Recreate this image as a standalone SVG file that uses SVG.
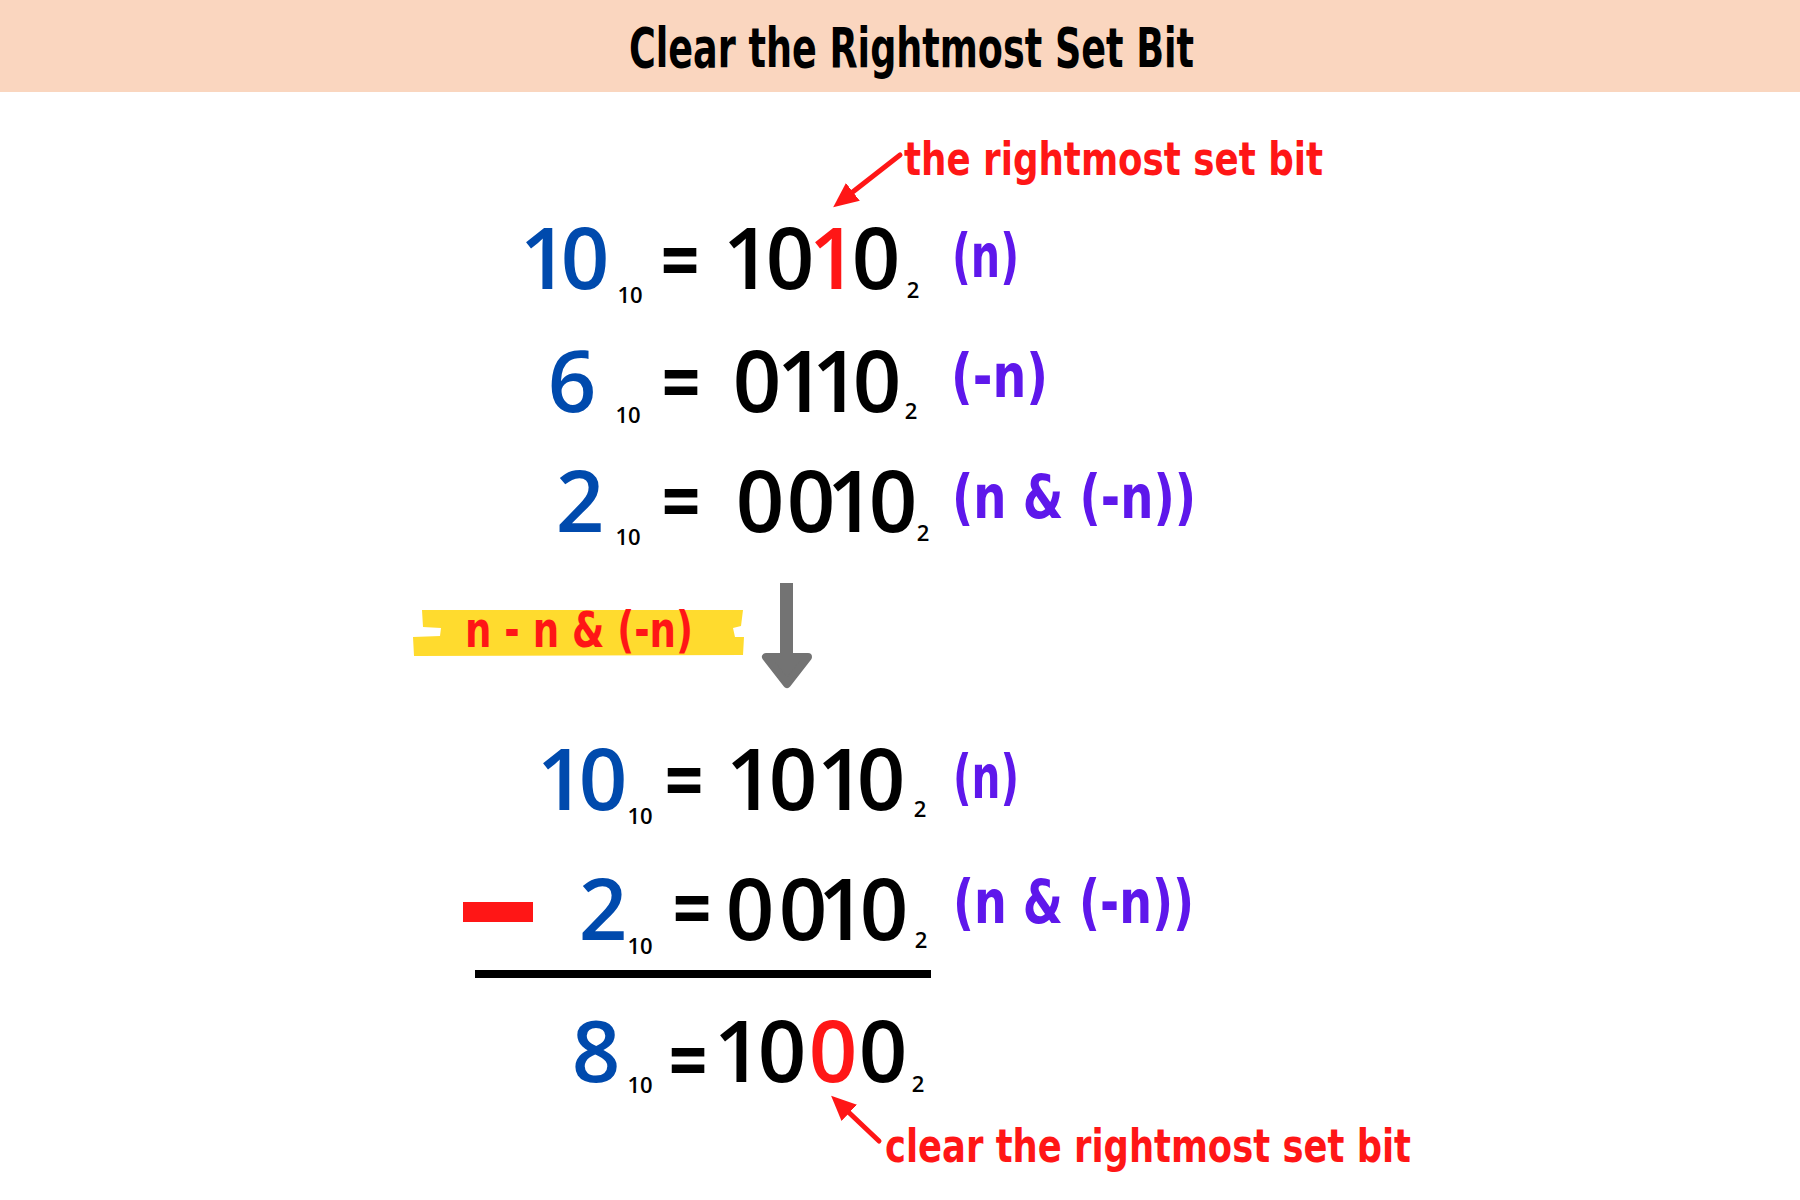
<svg xmlns="http://www.w3.org/2000/svg" width="1800" height="1200" viewBox="0 0 1800 1200">
<defs>
<style>
.dig{font-family:'Open Sans','Noto Sans',sans-serif;font-weight:600;font-size:85px;text-anchor:middle;letter-spacing:-6px}
.blue{fill:#004AAD}
.blk{fill:#000}
.red{fill:#FF1616}
.sub{font-family:'Open Sans','Noto Sans',sans-serif;font-weight:600;font-size:22px;fill:#000;text-anchor:middle}
.eq{font-family:'DejaVu Sans',sans-serif;font-weight:bold;font-size:52px;fill:#000;text-anchor:middle}
.mk{font-family:'Liberation Sans Narrow','DejaVu Sans Condensed','DejaVu Sans',sans-serif;font-stretch:condensed;font-weight:bold}
.pur{fill:#5E17EB;font-size:60px}
.ann{fill:#FF1616;font-size:46px}
</style>
<marker id="rh" viewBox="0 0 10 10" refX="4" refY="5" markerWidth="5" markerHeight="5" orient="auto" markerUnits="strokeWidth">
<path d="M0,0.5 L10,5 L0,9.5 Z" fill="#FF1616"/>
</marker>
</defs>
<rect width="1800" height="1200" fill="#fff"/>
<g id="header">
<rect x="0" y="0" width="1800" height="92" fill="#FAD6BF"/>
<text class="mk" x="629" y="67" font-size="56" textLength="565" lengthAdjust="spacingAndGlyphs" fill="#000">Clear the Rightmost Set Bit</text>
</g>
<g id="row1">
<text class="dig blue" x="541 582" y="289">10</text>
<text class="sub" x="630" y="303">10</text>
<text class="eq" transform="translate(680,284) scale(1,1.4)">=</text>
<text class="dig blk" y="289"><tspan x="744 787">10</tspan><tspan class="red" x="830">1</tspan><tspan x="873">0</tspan></text>
<text class="sub" x="913" y="298">2</text>
<text class="mk pur" x="952" y="277" textLength="67" lengthAdjust="spacingAndGlyphs">(n)</text>
</g>
<g id="row2">
<text class="dig blue" x="569" y="412">6</text>
<text class="sub" x="628" y="423">10</text>
<text class="eq" transform="translate(681,406) scale(1,1.4)">=</text>
<text class="dig blk" x="754 798 833 874" y="412">0110</text>
<text class="sub" x="911" y="419">2</text>
<text class="mk pur" x="951" y="397" textLength="97" lengthAdjust="spacingAndGlyphs">(-n)</text>
</g>
<g id="row3">
<text class="dig blue" x="577" y="532">2</text>
<text class="sub" x="628" y="545">10</text>
<text class="eq" transform="translate(681,525) scale(1,1.4)">=</text>
<text class="dig blk" x="757 808 848 890" y="532">0010</text>
<text class="sub" x="923" y="541">2</text>
<text class="mk pur" x="952" y="518" textLength="244" lengthAdjust="spacingAndGlyphs">(n &amp; (-n))</text>
</g>
<g id="highlight">
<path d="M422,610 L743,610 L741,626 L733,628 L735,637 L744,637 L743,655 L414,656 L413,637 L440,636 L441,628 L423,627 Z" fill="#FFDB2E"/>
<text class="mk red" x="465" y="647" font-size="50" textLength="228" lengthAdjust="spacingAndGlyphs">n - n &amp; (-n)</text>
</g>
<g id="down-arrow" fill="#737373" stroke="#737373">
<rect x="780" y="583" width="13" height="72" stroke="none"/>
<path d="M766,657 L808,657 L787,684 Z" stroke-width="8" stroke-linejoin="round"/>
</g>
<g id="row4">
<text class="dig blue" x="558 600" y="810">10</text>
<text class="sub" x="640" y="824">10</text>
<text class="eq" transform="translate(684,804) scale(1,1.4)">=</text>
<text class="dig blk" x="747 790 838 878" y="810">1010</text>
<text class="sub" x="920" y="817">2</text>
<text class="mk pur" x="953" y="798" textLength="66" lengthAdjust="spacingAndGlyphs">(n)</text>
</g>
<g id="row5">
<rect x="463" y="902" width="70" height="20" fill="#FF1616"/>
<text class="dig blue" x="600" y="940">2</text>
<text class="sub" x="640" y="954">10</text>
<text class="eq" transform="translate(692,932) scale(1,1.4)">=</text>
<text class="dig blk" x="747 800 839 881" y="940">0010</text>
<text class="sub" x="921" y="948">2</text>
<text class="mk pur" x="953" y="923" textLength="241" lengthAdjust="spacingAndGlyphs">(n &amp; (-n))</text>
</g>
<rect id="sum-line" x="475" y="970" width="456" height="8" fill="#000"/>
<g id="row6">
<text class="dig blue" x="593" y="1082">8</text>
<text class="sub" x="640" y="1093">10</text>
<text class="eq" transform="translate(688,1084) scale(1,1.4)">=</text>
<text class="dig blk" y="1082"><tspan x="735 779">10</tspan><tspan class="red" x="830">0</tspan><tspan x="880">0</tspan></text>
<text class="sub" x="918" y="1092">2</text>
</g>
<g id="annotations">
<text class="mk ann" x="904" y="175" textLength="419" lengthAdjust="spacingAndGlyphs">the rightmost set bit</text>
<text class="mk ann" x="885" y="1162" textLength="526" lengthAdjust="spacingAndGlyphs">clear the rightmost set bit</text>
</g>
<g id="connectors" stroke="#FF1616" stroke-width="5" fill="none" stroke-linecap="round">
<line x1="900" y1="155" x2="845" y2="198" marker-end="url(#rh)"/>
<line x1="879" y1="1141" x2="842" y2="1106" marker-end="url(#rh)"/>
</g>
</svg>
